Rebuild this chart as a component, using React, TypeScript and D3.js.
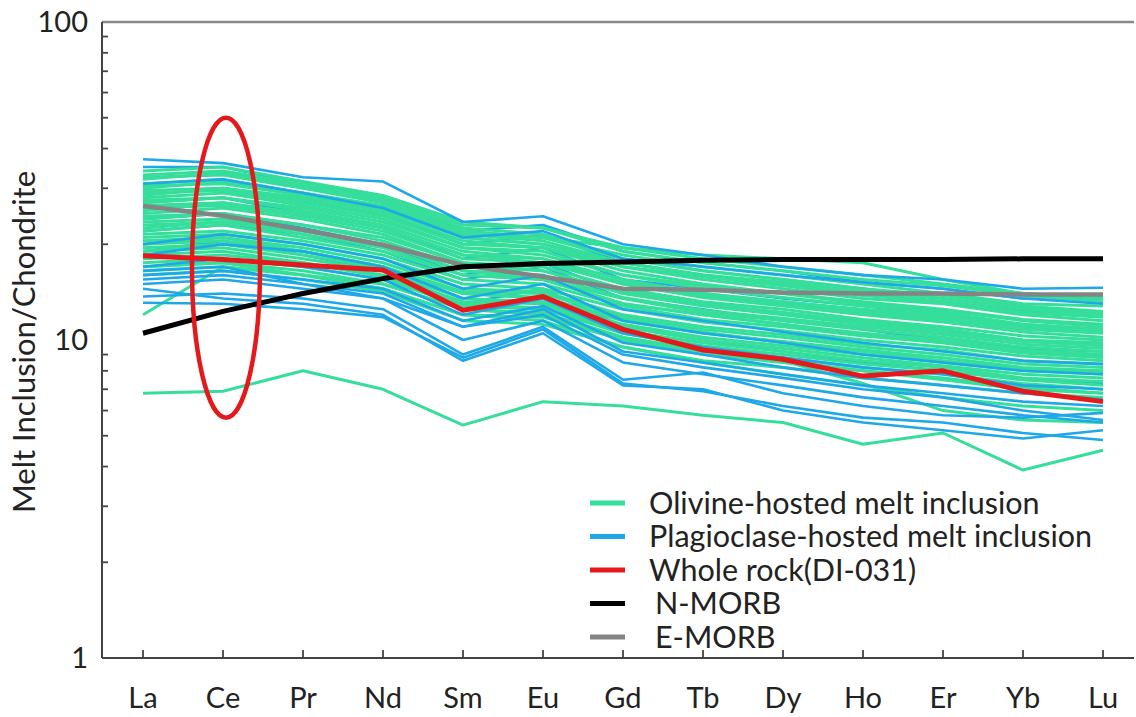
import React from "react";
import * as d3 from "d3";

const elements = ["La", "Ce", "Pr", "Nd", "Sm", "Eu", "Gd", "Tb", "Dy", "Ho", "Er", "Yb", "Lu"];
const yTickLabels = [1, 10, 100];

// Olivine-hosted melt inclusions (chondrite-normalized)
const olivine: number[][] = [
  [34, 35, 31.5, 28.5, 23.5, 22.5, 19.5, 18, 17, 16, 15, 14, 13.5],
  [33, 34, 31, 28, 23, 22.5, 19, 17.5, 16.5, 15.5, 14.8, 13.8, 13.2],
  [32.5, 33, 30, 27, 22, 21, 18.5, 17, 16, 15, 14, 13, 12.8],
  [32, 33.5, 30.5, 27.5, 22.5, 21.5, 18, 16.5, 15.5, 14.5, 13.8, 12.8, 12.3],
  [31, 32, 29, 26.5, 21.5, 21, 18, 16.5, 15.5, 14.5, 13.5, 12.5, 12],
  [30.5, 31, 28.5, 26, 21, 20, 17.5, 16, 15, 14, 13.2, 12.2, 11.8],
  [30, 31.5, 29, 26, 21.5, 20.5, 17.5, 16, 15.2, 14.2, 13.5, 12.6, 12.2],
  [29.5, 30, 27.5, 25, 20.5, 19.5, 17, 15.5, 14.5, 13.5, 13, 12, 11.5],
  [29, 29.5, 27, 24.5, 20, 19.5, 16.5, 15, 14, 13.2, 12.5, 11.6, 11.2],
  [28.5, 30, 28, 25.5, 21, 20, 17, 15.8, 14.8, 13.8, 13.2, 12.2, 12],
  [28, 29, 26.5, 24, 19.5, 19, 16, 14.8, 14, 13, 12.4, 11.5, 11],
  [27.5, 28, 26, 23.5, 19.5, 18.5, 16, 14.5, 13.6, 12.8, 12.2, 11.2, 10.8],
  [27, 28, 25.5, 23, 19, 18, 15.5, 14, 13.2, 12.5, 12, 11, 10.6],
  [26.5, 27, 25, 22.5, 18.5, 18, 15, 13.8, 13, 12.2, 11.6, 10.8, 10.5],
  [26, 26.5, 24.5, 22, 18, 17.5, 15, 13.6, 12.8, 12, 11.4, 10.6, 10.2],
  [25.5, 27, 25, 22.5, 18.5, 17.5, 15.2, 14, 13.2, 12.4, 11.8, 11, 10.7],
  [25, 26, 24, 21.5, 17.5, 17, 14.5, 13.2, 12.5, 11.6, 11, 10.3, 10],
  [24.5, 25, 23, 21, 17.5, 16.5, 14.2, 13, 12.2, 11.4, 10.8, 10, 9.8],
  [24, 25, 23, 20.5, 17, 16.5, 14, 12.8, 12, 11.2, 10.6, 9.9, 9.6],
  [23.5, 24, 22, 20, 16.5, 16, 13.6, 12.4, 11.7, 11, 10.4, 9.7, 9.4],
  [23, 23.5, 22, 20, 16.5, 15.5, 13.5, 12.2, 11.5, 10.8, 10.2, 9.5, 9.2],
  [22.5, 23.5, 21.5, 19.5, 16, 15.5, 13, 12, 11.2, 10.4, 9.8, 9.2, 8.9],
  [22, 23, 21, 19, 16, 15.5, 13, 12, 11.2, 10.5, 10, 9.3, 9],
  [21.5, 22, 20.5, 18.5, 15.5, 15, 12.8, 11.6, 11, 10.3, 9.8, 9.1, 8.8],
  [21, 21.5, 20, 18, 15, 14.5, 12.5, 11.4, 10.7, 10, 9.5, 8.9, 8.6],
  [20.5, 21, 19.5, 17.5, 14.5, 14.2, 12, 11, 10.4, 9.7, 9.3, 8.6, 8.4],
  [20, 20.5, 19, 17, 14.2, 14, 11.8, 10.8, 10.2, 9.5, 9, 8.4, 8.2],
  [19.5, 20, 18.5, 16.8, 14, 13.5, 11.5, 10.5, 9.9, 9.3, 8.8, 8.2, 8],
  [19, 20, 19, 17, 14, 13.6, 11.6, 10.6, 9.8, 9.2, 8.6, 8.1, 7.9],
  [19, 19.5, 18, 16.5, 13.5, 13.2, 11.2, 10.2, 9.6, 9, 8.5, 8, 7.8],
  [18.5, 19, 17.5, 16, 13.2, 13, 11, 10, 9.4, 8.8, 8.3, 7.8, 7.6],
  [18, 18.5, 17.5, 15.8, 13, 12.6, 10.7, 9.8, 9.2, 8.6, 8.2, 7.6, 7.4],
  [17.5, 18, 17, 15.5, 12.8, 12.5, 10.5, 9.6, 9, 8.4, 8, 7.5, 7.2],
  [17, 17.5, 16.5, 15, 12.5, 12.2, 10.2, 9.3, 8.8, 8.2, 7.8, 7.3, 7],
  [16.5, 17, 16, 14.5, 12, 11.8, 10, 9, 8.5, 8, 7.6, 7.1, 6.8],
  [16, 16.5, 15.5, 14.2, 11.5, 11.2, 9.5, 8.6, 8.2, 7.6, 7.2, 6.8, 6.6],
  [12, 17, 16, 15, 12.5, 12, 10, 9.2, 8.6, 8, 7.5, 7, 6.8],
  [29, 30, 28, 26, 22, 21, 19.5, 18.5, 18, 17.5, 15.5, 14, 13.6],
  [20, 21, 19, 17, 13.5, 13, 10.5, 9.5, 8.6, 7.3, 6.0, 5.6, 5.5],
  [17, 17.5, 16, 14.5, 12, 11.5, 9.5, 8.5, 7.8, 7.2, 6.6, 6.2, 6.0],
  [6.8, 6.9, 8.0, 7.0, 5.4, 6.4, 6.2, 5.8, 5.5, 4.7, 5.1, 3.9, 4.5],
];

// Plagioclase-hosted melt inclusions lying inside the olivine band (drawn beneath it)
const plagioclaseInBand: number[][] = [
  [35, 35, 31, 28, 22, 23, 19, 17.5, 16.5, 15.2, 14.5, 13.5, 13.5],
  [29, 30, 27, 25, 20, 21.5, 17.5, 16, 15, 14, 13.2, 12.3, 12],
  [27, 28, 25, 22.5, 18, 19.5, 15.5, 14.5, 13.5, 12.8, 12, 11.2, 10.8],
  [24, 25, 22.5, 20, 16, 17.5, 14, 13, 12.2, 11.4, 10.8, 10, 9.6],
  [22, 23, 21.5, 19, 15.5, 17, 13.5, 12.5, 11.5, 10.8, 10, 9.4, 9.2],
  [19, 20.5, 18.5, 16.5, 13, 14.5, 11, 10, 9.2, 8.5, 8, 7.5, 7.3],
];

// Plagioclase-hosted melt inclusions visible over the band and below it
const plagioclase: number[][] = [
  [37, 36, 32.5, 31.5, 23.5, 24.5, 20, 18.5, 17, 16, 15.5, 14.5, 14.6],
  [31, 32, 29, 26, 21, 22, 18, 17, 16, 15.2, 14.5, 13.5, 13],
  [20, 21.5, 20, 18, 14.5, 16, 12.5, 11.5, 10.6, 9.8, 9.2, 8.6, 8.4],
  [18.5, 20, 19, 17, 13.5, 15, 11.5, 10.5, 9.8, 9, 8.5, 8, 7.8],
  [17, 18, 17, 15.5, 12, 13.5, 10.5, 9.5, 8.8, 8.2, 7.8, 7.2, 7],
  [16.5, 17, 15, 13.5, 11, 12, 9, 8.2, 7.6, 7.0, 6.6, 6.0, 5.6],
  [16, 16.5, 15.5, 14.5, 11.5, 12.8, 9.8, 9, 8.2, 7.6, 7.2, 6.8, 6.5],
  [15.5, 16, 15, 14, 11, 12.5, 9.2, 8.5, 7.8, 7.2, 6.8, 6.4, 6.2],
  [15, 15.5, 14.5, 13.5, 10, 11.5, 8.5, 7.8, 7.2, 6.6, 6.2, 5.8, 5.5],
  [14.5, 13.5, 13, 12, 8.6, 10.5, 7.2, 7.0, 6.0, 5.5, 5.2, 4.9, 5.2],
  [13.7, 14, 13.5, 12.5, 9, 11, 7.5, 7.9, 6.8, 6.2, 5.8, 5.7, 5.9],
  [13.1, 13, 12.5, 11.8, 8.8, 10.8, 7.3, 6.9, 6.2, 5.7, 5.5, 5.1, 4.85],
];

const wholeRock = [18.4, 17.9, 17.2, 16.6, 12.4, 13.7, 10.8, 9.3, 8.7, 7.7, 8.0, 6.9, 6.4];
const nMorb = [10.5, 12.3, 14, 15.6, 17.0, 17.4, 17.6, 17.8, 17.9, 17.9, 17.9, 18, 18];
const eMorb = [26.4, 24.6, 22.2, 19.9, 17.2, 15.8, 14.5, 14.4, 14.1, 14.0, 14.0, 13.9, 13.9];

// ellipse highlighting Ce (value range of its vertical extent)
const ellipseRange = [5.7, 50];

const GREEN = "#35de9a";
const BLUE = "#1ea8e8";
const RED = "#e5191c";
const GRAY = "#848484";

const legendLabels = [
  "Olivine-hosted melt inclusion",
  "Plagioclase-hosted melt inclusion",
  "Whole rock(DI-031)",
  "N-MORB",
  "E-MORB",
];
const legendColors = [GREEN, BLUE, RED, "#000000", GRAY];

const FONT = "Lato, 'Open Sans', sans-serif";

export default function App() {
  const W = 1136;
  const H = 717;
  const left = 102;
  const right = 1134;
  const top = 22;
  const bottom = 658;

  const x = d3.scalePoint<string>().domain(elements).range([143, 1103]);
  const y = d3.scaleLog().domain([1, 100]).range([bottom, top]);

  const line = d3
    .line<number>()
    .x((_, i) => x(elements[i]) as number)
    .y((d) => y(d));

  const minorTicks: number[] = [];
  for (const dec of [1, 10]) {
    for (let k = 2; k <= 9; k++) minorTicks.push(dec * k);
  }

  const ceX = x("Ce") as number;
  const ellTop = y(ellipseRange[1]);
  const ellBot = y(ellipseRange[0]);

  return (
    <svg
      width={W}
      height={H}
      style={{ position: "absolute", left: 0, top: 0, background: "#fff" }}
      fontFamily={FONT}
    >
      <rect x={0} y={0} width={W} height={H} fill="#fff" />

      {/* data lines */}
      <g fill="none" strokeLinejoin="round">
        {plagioclaseInBand.map((d, i) => (
          <path key={"pb" + i} d={line(d) || ""} stroke={BLUE} strokeWidth={2.6} />
        ))}
        {olivine.map((d, i) => (
          <path key={"o" + i} d={line(d) || ""} stroke={GREEN} strokeWidth={3} />
        ))}
        {plagioclase.map((d, i) => (
          <path key={"p" + i} d={line(d) || ""} stroke={BLUE} strokeWidth={2.6} />
        ))}
        <path d={line(eMorb) || ""} stroke={GRAY} strokeWidth={4.5} />
        <path d={line(nMorb) || ""} stroke="#000" strokeWidth={5} />
        <path d={line(wholeRock) || ""} stroke={RED} strokeWidth={5} />
      </g>

      <ellipse
        cx={ceX + 3}
        cy={(ellTop + ellBot) / 2}
        rx={34}
        ry={(ellBot - ellTop) / 2}
        fill="none"
        stroke={RED}
        strokeWidth={4.5}
      />

      {/* frame */}
      <line x1={left} x2={right} y1={top} y2={top} stroke="#8a8a8a" strokeWidth={2.5} />
      <line x1={left} x2={left} y1={top} y2={bottom} stroke="#444" strokeWidth={2} />
      <line x1={left} x2={right} y1={bottom} y2={bottom} stroke="#444" strokeWidth={2} />

      {/* y ticks */}
      {minorTicks.map((t) => (
        <line key={"m" + t} x1={left} x2={left + 6} y1={y(t)} y2={y(t)} stroke="#444" strokeWidth={1.8} />
      ))}
      {yTickLabels.map((t) => (
        <text key={"yl" + t} x={88} y={y(t)} dy="0.36em" textAnchor="end" fontSize={29} fill="#222">
          {t}
        </text>
      ))}

      {/* x ticks */}
      {elements.map((e) => (
        <g key={"x" + e}>
          <line x1={x(e)} x2={x(e)} y1={bottom} y2={bottom - 8} stroke="#444" strokeWidth={1.8} />
          <text x={x(e)} y={708} textAnchor="middle" fontSize={29} fill="#222">
            {e}
          </text>
        </g>
      ))}

      {/* y title */}
      <text
        transform={`translate(35, 342) rotate(-90)`}
        textAnchor="middle"
        fontSize={31}
        fill="#222"
      >
        Melt Inclusion/Chondrite
      </text>

      {/* legend */}
      {legendLabels.map((label, i) => {
        const ly = 503 + i * 33.5;
        return (
          <g key={"lg" + i}>
            <line x1={590} x2={625} y1={ly} y2={ly} stroke={legendColors[i]} strokeWidth={5} />
            <text x={i >= 3 ? 655 : 649} y={ly} dy="0.35em" fontSize={30.5} fill="#222">
              {label}
            </text>
          </g>
        );
      })}
    </svg>
  );
}
